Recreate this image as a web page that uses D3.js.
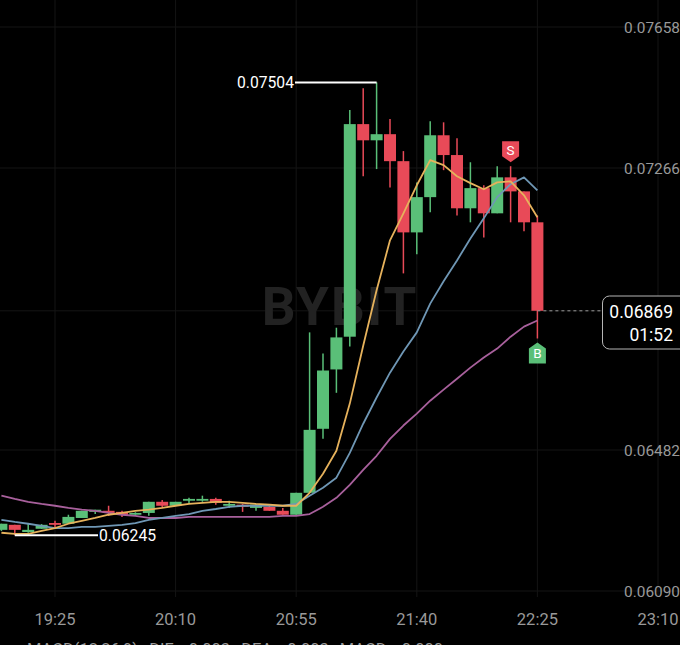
<!DOCTYPE html>
<html>
<head>
<meta charset="utf-8">
<script src="https://cdn.jsdelivr.net/npm/d3@7"></script>
<style>
    html, body { margin: 0; padding: 0; background: #000; overflow: hidden; }
    svg { display: block; }
    text { font-family: Roboto, "Noto Sans", sans-serif; }
</style>
</head>
<body>
<svg id="chart" width="680" height="645"></svg>
<script>
// candle open times, 5 min apart
var times = ["19:05","19:10","19:15","19:20","19:25","19:30","19:35","19:40","19:45","19:50",
    "19:55","20:00","20:05","20:10","20:15","20:20","20:25","20:30","20:35","20:40",
    "20:45","20:50","20:55","21:00","21:05","21:10","21:15","21:20","21:25","21:30",
    "21:35","21:40","21:45","21:50","21:55","22:00","22:05","22:10","22:15","22:20","22:25"];

var opens = [0.06260,0.06274,0.06254,0.06263,0.06279,0.06277,0.06293,0.06310,0.06313,0.06310,
    0.06302,0.06307,0.06338,0.06327,0.06341,0.06341,0.06346,0.06327,0.06330,0.06321,
    0.06324,0.06313,0.06302,0.06363,0.06541,0.06706,0.06797,0.07388,0.07343,0.07360,
    0.07285,0.07087,0.07185,0.07357,0.07302,0.07154,0.07210,0.07140,0.07240,0.07201,0.07115];
var highs = [0.06277,0.06274,0.06277,0.06276,0.06285,0.06302,0.06313,0.06316,0.06327,0.06313,
    0.06309,0.06338,0.06343,0.06338,0.06349,0.06355,0.06349,0.06341,0.06332,0.06332,
    0.06327,0.06321,0.06363,0.06809,0.06750,0.06822,0.07427,0.07488,0.07504,0.07402,
    0.07313,0.07226,0.07396,0.07393,0.07349,0.07282,0.07218,0.07271,0.07271,0.07201,0.07134];
var lows = [0.06257,0.06245,0.06252,0.06263,0.06265,0.06277,0.06293,0.06304,0.06299,0.06296,
    0.06302,0.06299,0.06321,0.06327,0.06332,0.06338,0.06330,0.06321,0.06310,0.06313,
    0.06313,0.06302,0.06302,0.06363,0.06513,0.06641,0.06770,0.07243,0.07263,0.07212,
    0.06973,0.07026,0.07143,0.07260,0.07134,0.07115,0.07073,0.07140,0.07115,0.07090,0.06792];
var closes = [0.06277,0.06260,0.06260,0.06274,0.06274,0.06296,0.06313,0.06316,0.06307,0.06302,
    0.06307,0.06338,0.06327,0.06338,0.06346,0.06346,0.06335,0.06332,0.06324,0.06330,
    0.06313,0.06302,0.06363,0.06538,0.06703,0.06795,0.07388,0.07343,0.07360,0.07285,
    0.07087,0.07185,0.07357,0.07302,0.07154,0.07210,0.07140,0.07240,0.07201,0.07115,0.06869];

var maFast = [0.06252,0.06249,0.06249,0.06257,0.06265,0.06277,0.06285,0.06293,0.06302,0.06307,
    0.06313,0.06316,0.06321,0.06327,0.06332,0.06335,0.06338,0.06338,0.06335,0.06332,
    0.06330,0.06327,0.06327,0.06363,0.06416,0.06480,0.06611,0.06772,0.06926,0.07065,
    0.07140,0.07218,0.07288,0.07274,0.07243,0.07224,0.07207,0.07226,0.07229,0.07190,0.07129];
var maMid = [0.06288,0.06282,0.06277,0.06271,0.06265,0.06265,0.06268,0.06268,0.06271,0.06274,
    0.06279,0.06288,0.06293,0.06299,0.06304,0.06313,0.06318,0.06324,0.06327,0.06327,
    0.06327,0.06327,0.06332,0.06355,0.06377,0.06405,0.06474,0.06555,0.06628,0.06697,
    0.06756,0.06809,0.06889,0.06951,0.07009,0.07070,0.07126,0.07185,0.07221,0.07240,0.07204];
var maSlow = [0.06355,0.06346,0.06338,0.06332,0.06327,0.06321,0.06316,0.06313,0.06307,0.06302,
    0.06299,0.06293,0.06293,0.06293,0.06296,0.06296,0.06296,0.06296,0.06296,0.06296,
    0.06296,0.06299,0.06299,0.06304,0.06324,0.06349,0.06385,0.06427,0.06466,0.06513,
    0.06550,0.06583,0.06619,0.06650,0.06680,0.06711,0.06739,0.06764,0.06797,0.06825,0.06842];

var priceTicks = [0.07658, 0.07266, 0.06869, 0.06482, 0.06090];
var timeTicks = ["19:25","20:10","20:55","21:40","22:25","23:10"];

var highLabel = { time: "21:25", price: 0.07504 };
var lowLabel = { time: "19:10", price: 0.06245 };
var lastPrice = 0.06869;
var countdown = "01:52";
var macdText = "MACD(12,26,9) DIF: 0.003 DEA: 0.003 MACD: 0.000";

var GREEN = "#5abf78", RED = "#e84a58";

var parseTime = d3.timeParse("%H:%M");

// the scales are pinned to the axis labels of the screenshot
var x = d3.scaleTime()
    .domain([parseTime("19:25"), parseTime("23:10")])
    .range([55, 658]);
var y = d3.scaleLinear()
    .domain([0.06090, 0.07658])
    .range([591, 27]);

var svg = d3.select("#chart");
svg.append("rect").attr("width", 680).attr("height", 645).attr("fill", "#000");

// grid
svg.append("g").selectAll("line")
    .data(priceTicks)
    .enter()
    .append("line")
        .attr("x1", 0).attr("x2", 680)
        .attr("y1", function(d) { return y(d); })
        .attr("y2", function(d) { return y(d); })
        .attr("stroke", "#141414");
svg.append("g").selectAll("line")
    .data(timeTicks)
    .enter()
    .append("line")
        .attr("x1", function(d) { return x(parseTime(d)); })
        .attr("x2", function(d) { return x(parseTime(d)); })
        .attr("y1", 0).attr("y2", 597)
        .attr("stroke", "#141414");

// watermark
svg.append("text")
    .attr("x", 340).attr("y", 325)
    .attr("text-anchor", "middle")
    .attr("font-size", 53)
    .attr("font-weight", 700)
    .attr("letter-spacing", 2)
    .attr("fill", "#222")
    .text("BYBIT");

// candles
var candles = svg.append("g").selectAll("g")
    .data(times)
    .enter()
    .append("g")
        .attr("fill", function(d, i) { return closes[i] >= opens[i] ? GREEN : RED; })
        .attr("stroke", function(d, i) { return closes[i] >= opens[i] ? GREEN : RED; });

candles.append("line")
    .attr("x1", function(d) { return x(parseTime(d)); })
    .attr("x2", function(d) { return x(parseTime(d)); })
    .attr("y1", function(d, i) { return y(highs[i]); })
    .attr("y2", function(d, i) { return y(lows[i]); })
    .attr("stroke-width", 1.5);

candles.append("rect")
    .attr("x", function(d) { return x(parseTime(d)) - 6; })
    .attr("width", 12)
    .attr("y", function(d, i) { return y(Math.max(opens[i], closes[i])); })
    .attr("height", function(d, i) { return Math.max(1, Math.abs(y(opens[i]) - y(closes[i]))); })
    .attr("stroke", "none");

// moving averages
var maLine = d3.line()
    .x(function(d, i) { return x(parseTime(times[i])); })
    .y(function(d) { return y(d); });

[[maSlow, "#a8609c"], [maMid, "#6f97b5"], [maFast, "#e6b25c"]].forEach(function(ma) {
    svg.append("path")
        .attr("d", maLine(ma[0]))
        .attr("fill", "none")
        .attr("stroke", ma[1])
        .attr("stroke-width", 1.8)
        .attr("stroke-linejoin", "round");
});

// highest / lowest price labels
function extremeLabel(item, labelX) {
    var px = x(parseTime(item.time));
    var py = y(item.price);
    svg.append("line")
        .attr("x1", px).attr("x2", labelX + (labelX < px ? 1 : -1))
        .attr("y1", py).attr("y2", py)
        .attr("stroke", "#fff").attr("stroke-width", 2);
    svg.append("text")
        .attr("x", labelX).attr("y", py + 6)
        .attr("text-anchor", labelX < px ? "end" : "start")
        .attr("font-size", 15.7)
        .attr("fill", "#fff")
        .text(d3.format(".5f")(item.price));
}
extremeLabel(highLabel, 294);
extremeLabel(lowLabel, 99);

// sell / buy flags
function flag(time, price, letter, color, isSell) {
    var px = x(parseTime(time));
    var py = y(price);
    var top = isSell ? py - 25 : py + 4;
    var points = isSell
        ? [[-8.5, 0], [8.5, 0], [8.5, 15], [0, 21], [-8.5, 15]]
        : [[0, 0], [8.5, 6], [8.5, 21], [-8.5, 21], [-8.5, 6]];
    svg.append("polygon")
        .attr("points", points.map(function(p) { return (px + p[0]) + "," + (top + p[1]); }).join(" "))
        .attr("fill", color);
    svg.append("text")
        .attr("x", px).attr("y", top + (isSell ? 14 : 16))
        .attr("text-anchor", "middle")
        .attr("font-size", 13.5)
        .attr("fill", "#fff")
        .text(letter);
}
flag("22:15", highs[38], "S", RED, true);
flag("22:25", lows[40], "B", GREEN, false);

// last price line and box
var lastY = y(lastPrice);
svg.append("line")
    .attr("x1", x(parseTime("22:25"))).attr("x2", 603)
    .attr("y1", lastY).attr("y2", lastY)
    .attr("stroke", "#999").attr("stroke-dasharray", "3,3");
svg.append("rect")
    .attr("x", 602.5).attr("y", 296)
    .attr("width", 90).attr("height", 53)
    .attr("rx", 7)
    .attr("fill", "#000")
    .attr("stroke", "#b5b5b5");
svg.append("text")
    .attr("x", 673).attr("y", lastY + 7)
    .attr("text-anchor", "end").attr("font-size", 17.5).attr("fill", "#fff")
    .text(d3.format(".5f")(lastPrice));
svg.append("text")
    .attr("x", 673).attr("y", lastY + 30)
    .attr("text-anchor", "end").attr("font-size", 17.5).attr("fill", "#fff")
    .text(countdown);

// axis labels, the last price sits in its box instead
svg.append("g").selectAll("text")
    .data(priceTicks.filter(function(d) { return d !== lastPrice; }))
    .enter()
    .append("text")
        .attr("x", 680).attr("text-anchor", "end")
        .attr("y", function(d) { return y(d) + 5.5; })
        .attr("font-size", 15.4)
        .attr("fill", "#999")
        .text(function(d) { return d3.format(".5f")(d); });

svg.append("g").selectAll("text")
    .data(timeTicks)
    .enter()
    .append("text")
        .attr("x", function(d) { return x(parseTime(d)); })
        .attr("y", 625)
        .attr("text-anchor", "middle")
        .attr("font-size", 16.5)
        .attr("fill", "#999")
        .text(function(d) { return d; });

// indicator line, cut off by the bottom of the screenshot just like the reference
svg.append("text")
    .attr("x", 27).attr("y", 655)
    .attr("font-size", 16.5)
    .attr("word-spacing", 7)
    .attr("fill", "#999")
    .text(macdText);
</script>
</body>
</html>
